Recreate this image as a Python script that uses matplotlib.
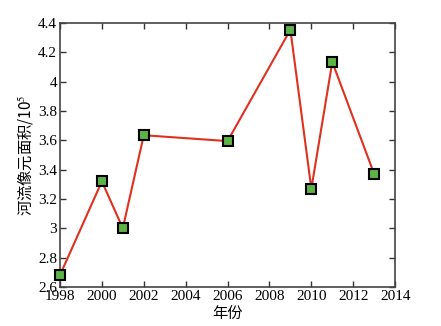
import matplotlib
matplotlib.use('Agg')
import matplotlib.pyplot as plt

years = [1998, 2000, 2001, 2002, 2006, 2009, 2010, 2011, 2013]
area = [2.68, 3.32, 3.00, 3.635, 3.595, 4.355, 3.27, 4.135, 3.37]
xticks = list(range(1998, 2015, 2))
yticks = [2.6, 2.8, 3.0, 3.2, 3.4, 3.6, 3.8, 4.0, 4.2, 4.4]
ytick_labels = ['2.6', '2.8', '3', '3.2', '3.4', '3.6', '3.8', '4', '4.2', '4.4']

plt.rcParams['font.family'] = ['Liberation Serif', 'Noto Sans CJK SC']
plt.rcParams['mathtext.fontset'] = 'stix'

fig = plt.figure(figsize=(4.41, 3.26), dpi=100)
ax = fig.add_axes([0.136, 0.12, 0.76, 0.809])

ax.plot(years, area, color='#e0301e', lw=1.5, marker='s', ms=7,
        mfc='#5cb346', mec='black', mew=1.5, clip_on=False, zorder=3)

ax.set_xlim(1998, 2014)
ax.set_ylim(2.6, 4.4)
ax.set_xticks(xticks)
ax.set_yticks(yticks)
ax.set_yticklabels(ytick_labels)
ax.tick_params(direction='in', top=True, right=True, length=4, width=1,
               labelsize=11, pad=2, colors='#333333', labelcolor='black')
for s in ax.spines.values():
    s.set_color('#444444')
    s.set_linewidth(1.2)

ax.set_xlabel('年份', family=['Noto Sans CJK SC'], fontsize=11, labelpad=2)
ax.set_ylabel('河流像元面积/10$^5$', family=['Noto Sans CJK SC', 'DejaVu Sans'],
              fontsize=11, labelpad=2)

fig.savefig('out.png', dpi=100)
